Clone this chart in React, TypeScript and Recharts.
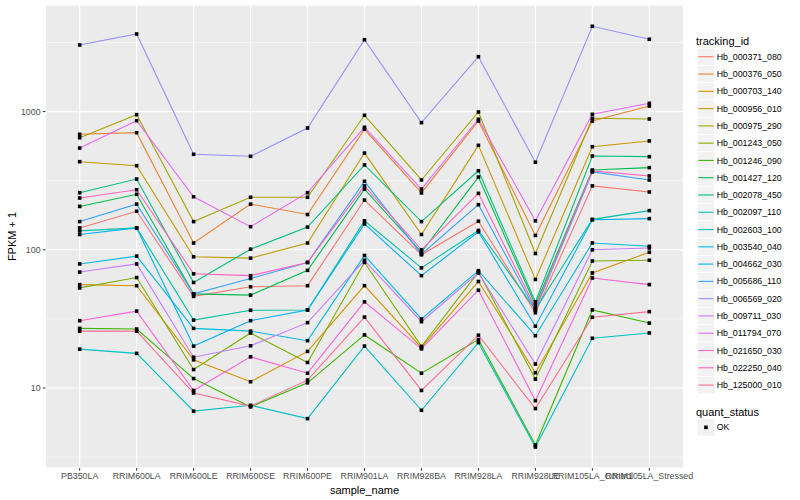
import React from 'react';
import { ComposedChart, Line, XAxis, YAxis, CartesianGrid } from 'recharts';

const samples = [
  'PB350LA', 'RRIM600LA', 'RRIM600LE', 'RRIM600SE', 'RRIM600PE', 'RRIM901LA',
  'RRIM928BA', 'RRIM928LA', 'RRIM928LE', 'RRIM105LA_Control', 'RRIM105LA_Stressed',
];

const trackingIds = [
  'Hb_000371_080', 'Hb_000376_050', 'Hb_000703_140', 'Hb_000956_010', 'Hb_000975_290',
  'Hb_001243_050', 'Hb_001246_090', 'Hb_001427_120', 'Hb_002078_450', 'Hb_002097_110',
  'Hb_002603_100', 'Hb_003540_040', 'Hb_004662_030', 'Hb_005686_110', 'Hb_006569_020',
  'Hb_009711_030', 'Hb_011794_070', 'Hb_021650_030', 'Hb_022250_040', 'Hb_125000_010',
];

const colors = [
  '#F8766D', '#EA8331', '#D89000', '#C09B00', '#A3A500', '#7CAE00', '#39B600', '#00BB4E',
  '#00BF7D', '#00C1A3', '#00BFC4', '#00BAE0', '#00B0F6', '#35A2FF', '#9590FF', '#C77CFF',
  '#E76BF3', '#FA62DB', '#FF62BC', '#FF6C91',
];

// FPKM + 1 per sample (order of `samples`)
const hb_000371_080 = [144, 190, 46, 54, 55, 229, 92, 161, 35, 290, 262];
const hb_000376_050 = [685, 704, 112, 214, 180, 745, 258, 855, 127, 855, 1097];
const hb_000703_140 = [56, 55, 16, 11.1, 18.4, 55, 19.6, 59, 12.9, 68, 96];
const hb_000956_010 = [434, 406, 89, 87, 112, 501, 129, 570, 61, 557, 613];
const hb_000975_290 = [647, 950, 160, 240, 240, 940, 320, 993, 94, 895, 884];
const hb_001243_050 = [53, 63, 13.6, 25, 15.3, 81, 20, 69, 11.6, 83, 84];
const hb_001246_090 = [27, 26.7, 11.7, 7.3, 10.9, 24.2, 12.8, 22.4, 3.87, 36.7, 29.5];
const hb_001427_120 = [206, 252, 48, 47, 71, 275, 96, 336, 40, 378, 393];
const hb_002078_450 = [259, 325, 58, 101, 146, 411, 160, 373, 42, 477, 472];
const hb_002097_110 = [137, 144, 31, 36.5, 36.7, 162, 74, 138, 37, 166, 192];
const hb_002603_100 = [19.1, 17.8, 6.8, 7.5, 6.0, 20.1, 6.9, 21.3, 3.74, 22.9, 25];
const hb_003540_040 = [79, 90, 27, 25.8, 22, 91, 31.6, 70.6, 23.9, 112, 106];
const hb_004662_030 = [129, 144, 20.1, 30.7, 36.7, 154, 65, 135, 28, 165, 168];
const hb_005686_110 = [160, 214, 48, 62, 81, 313, 93, 212, 36.7, 366, 320];
const hb_006569_020 = [3034, 3644, 491, 475, 761, 3313, 832, 2496, 430, 4142, 3336];
const hb_009711_030 = [69, 79, 16.7, 20.2, 29.7, 84, 30.2, 68, 14.9, 100, 103];
const hb_011794_070 = [545, 859, 242, 147, 259, 770, 275, 880, 162, 956, 1148];
const hb_021650_030 = [30.7, 36, 9.6, 16.8, 12.8, 42, 19.2, 51, 8.1, 62.5, 56];
const hb_022250_040 = [237, 272, 67, 65, 81, 290, 100, 256, 38, 372, 342];
const hb_125000_010 = [25.8, 25.8, 9.2, 7.4, 11.4, 32.6, 9.6, 24.1, 7.1, 32.5, 35.7];

const seriesValues = [
  hb_000371_080, hb_000376_050, hb_000703_140, hb_000956_010, hb_000975_290,
  hb_001243_050, hb_001246_090, hb_001427_120, hb_002078_450, hb_002097_110,
  hb_002603_100, hb_003540_040, hb_004662_030, hb_005686_110, hb_006569_020,
  hb_009711_030, hb_011794_070, hb_021650_030, hb_022250_040, hb_125000_010,
];

const majorTicks = [10, 100, 1000];
const minorTicks = [3.1623, 31.623, 316.23, 3162.3];
const statusLabels = ['OK'];

const rows = samples.map((s, i) => {
  const r: Record<string, number | string> = { pos: i + 1, sample: s };
  trackingIds.forEach((id, k) => {
    r[id] = seriesValues[k][i];
  });
  return r;
});

const FONT = '"Liberation Sans", Arial, Helvetica, sans-serif';
const yDomain = [Math.pow(10, 0.4211), Math.pow(10, 3.7713)];

const legendX = 697.3;
const keySize = 17.28;
const legendTop = 48.1;

export default function App() {
  return (
    <div style={{ position: 'absolute', left: 0, top: 0, width: 800, height: 500, background: '#fff', fontFamily: FONT }}>
      <ComposedChart width={800} height={500} data={rows} margin={{ top: 5, right: 116.5, bottom: 0, left: 0 }}>
        <XAxis
          dataKey="pos"
          type="number"
          domain={[0.4, 11.6]}
          ticks={samples.map((_, i) => i + 1)}
          interval={0}
          tickFormatter={(v: number) => samples[v - 1] ?? ''}
          height={32}
          axisLine={false}
          tickSize={2.75}
          tickMargin={2.2}
          tickLine={{ stroke: '#333333', strokeWidth: 1 }}
          tick={{ fontSize: 8.8, fill: '#4D4D4D', fontFamily: FONT }}
          allowDataOverflow
        />
        <YAxis
          yAxisId="main"
          type="number"
          scale="log"
          domain={yDomain}
          ticks={majorTicks}
          width={45.5}
          axisLine={false}
          tickSize={2.75}
          tickMargin={2.2}
          tickLine={{ stroke: '#333333', strokeWidth: 1 }}
          tick={{ fontSize: 8.8, fill: '#4D4D4D', fontFamily: FONT }}
          allowDataOverflow
        />
        <YAxis
          yAxisId="minor"
          type="number"
          scale="log"
          domain={yDomain}
          ticks={minorTicks}
          hide
          allowDataOverflow
        />
        <CartesianGrid yAxisId="minor" fill="#EBEBEB" stroke="#FFFFFF" strokeWidth={0.55} vertical={false} />
        <CartesianGrid yAxisId="main" stroke="#FFFFFF" strokeWidth={1.1} />
        {trackingIds.map((id, k) => (
          <Line
            key={id}
            yAxisId="main"
            dataKey={id}
            stroke={colors[k]}
            strokeWidth={1.1}
            dot={false}
            activeDot={false}
            isAnimationActive={false}
            type="linear"
          />
        ))}
        {trackingIds.map((id) => (
          <Line
            key={id + '-pts'}
            yAxisId="main"
            dataKey={id}
            stroke="none"
            activeDot={false}
            isAnimationActive={false}
            dot={(p: any) => (
              <rect key={id + '-d-' + p.index} x={p.cx - 1.8} y={p.cy - 1.8} width={3.6} height={3.6} fill="#000000" />
            )}
          />
        ))}
      </ComposedChart>
      <svg width={800} height={500} style={{ position: 'absolute', left: 0, top: 0, pointerEvents: 'none', fontFamily: FONT }}>
        <text x={364.5} y={494} textAnchor="middle" fontSize={11} fill="#000">sample_name</text>
        <text x={0} y={0} transform="translate(16.2,236.5) rotate(-90)" textAnchor="middle" fontSize={11} fill="#000">FPKM + 1</text>
        <text x={696} y={44.6} fontSize={11} fill="#000">tracking_id</text>
        {trackingIds.map((id, k) => {
          const y = legendTop + k * keySize;
          return (
            <g key={id}>
              <rect x={legendX} y={y} width={keySize} height={keySize} fill="#F2F2F2" stroke="#FFFFFF" strokeWidth={0.6} />
              <line x1={legendX + 1} x2={legendX + keySize - 1} y1={y + keySize / 2} y2={y + keySize / 2} stroke={colors[k]} strokeWidth={1.1} />
              <text x={716.7} y={y + keySize / 2} dy="0.35em" fontSize={8.8} fill="#000">{id}</text>
            </g>
          );
        })}
        <text x={696} y={415.5} fontSize={11} fill="#000">quant_status</text>
        {statusLabels.map((s, k) => {
          const y = 418.7 + k * keySize;
          return (
            <g key={s}>
              <rect x={legendX} y={y} width={keySize} height={keySize} fill="#F2F2F2" stroke="#FFFFFF" strokeWidth={0.6} />
              <rect x={legendX + keySize / 2 - 1.8} y={y + keySize / 2 - 1.8} width={3.6} height={3.6} fill="#000" />
              <text x={716.7} y={y + keySize / 2} dy="0.35em" fontSize={8.8} fill="#000">{s}</text>
            </g>
          );
        })}
      </svg>
    </div>
  );
}
